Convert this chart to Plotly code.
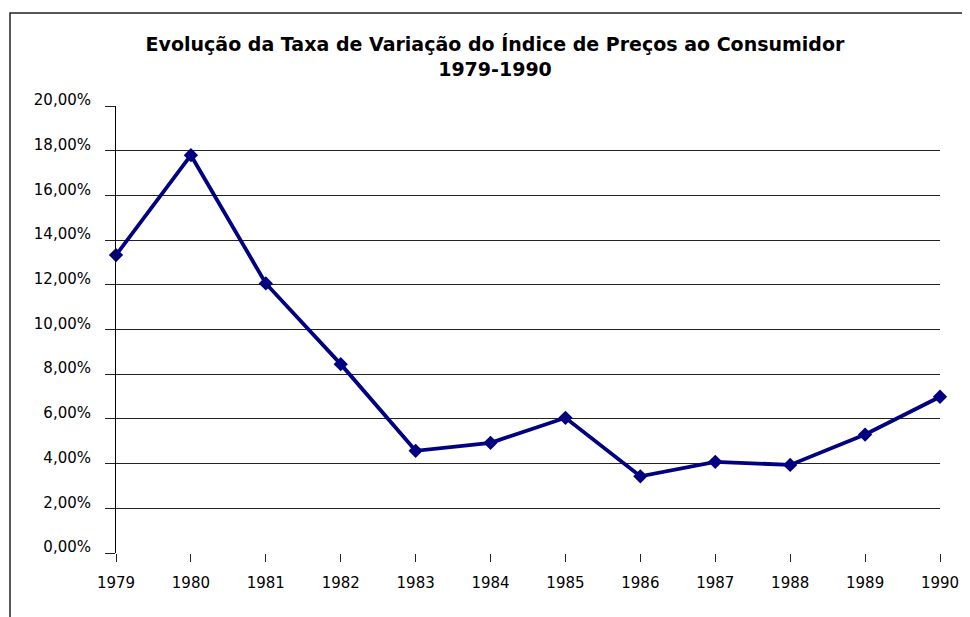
import plotly.graph_objects as go

years = ["1979", "1980", "1981", "1982", "1983", "1984", "1985", "1986", "1987", "1988", "1989", "1990"]
ipc_rate = [13.33, 17.80, 12.06, 8.45, 4.57, 4.93, 6.05, 3.43, 4.08, 3.94, 5.30, 6.99]

y_tick_vals = [0, 2, 4, 6, 8, 10, 12, 14, 16, 18, 20]
y_tick_text = ["0,00%", "2,00%", "4,00%", "6,00%", "8,00%", "10,00%",
               "12,00%", "14,00%", "16,00%", "18,00%", "20,00%"]

title_lines = ["Evolução da Taxa de Variação do Índice de Preços ao Consumidor", "1979-1990"]

# page body has an 8px offset; figure sized to fit the 970x617 window
OFF = 8
W, H = 970 - OFF, 617 - OFF
ml = 116 - OFF
mt = 106 - OFF
mr = 970 - 940
mb = 617 - 553
pw = W - ml - mr
ph = H - mt - mb

FONT = "DejaVu Sans, Liberation Sans, Arial, sans-serif"

fig = go.Figure()
fig.add_trace(go.Scatter(
    x=years, y=ipc_rate, mode="lines+markers",
    line=dict(color="#000080", width=3.8),
    marker=dict(symbol="diamond", size=11, color="#000080"),
    cliponaxis=False, showlegend=False,
))

fig.update_layout(
    width=W, height=H,
    margin=dict(l=ml, r=mr, t=mt, b=mb, autoexpand=False),
    paper_bgcolor="white", plot_bgcolor="white",
    font=dict(family=FONT, size=15, color="black"),
    title=dict(text="<br>".join("<b>" + t + "</b>" for t in title_lines),
               x=(495 - OFF) / W, xanchor="center", y=1 - (51 - OFF) / H, yanchor="middle",
               font=dict(family=FONT, size=19, color="black")),
    xaxis=dict(type="category", range=[0, 11], showgrid=False,
               ticks="outside", ticklen=8, tickcolor="#222222",
               tickfont=dict(family=FONT, size=15, color="black"),
               showline=False, zeroline=False, ticklabelstandoff=8),
    yaxis=dict(range=[0, 20], tickvals=y_tick_vals, ticktext=y_tick_text,
               tickfont=dict(family=FONT, size=15, color="black"),
               showgrid=True, gridcolor="#222222", gridwidth=1,
               ticks="outside", ticklen=10, tickcolor="#222222",
               showline=True, linecolor="black", linewidth=1,
               zeroline=False, ticklabelstandoff=11, ticklabelshift=-6),
)

# outer chart border (left and top visible in the frame)
fig.add_shape(type="rect", xref="paper", yref="paper",
              x0=(10 - 116) / pw, x1=(1000 - 116) / pw,
              y0=-(700 - 553) / ph, y1=(553 - 13) / ph,
              line=dict(color="#222222", width=1.5), fillcolor="rgba(0,0,0,0)",
              layer="below")

fig.write_html("out.html")
